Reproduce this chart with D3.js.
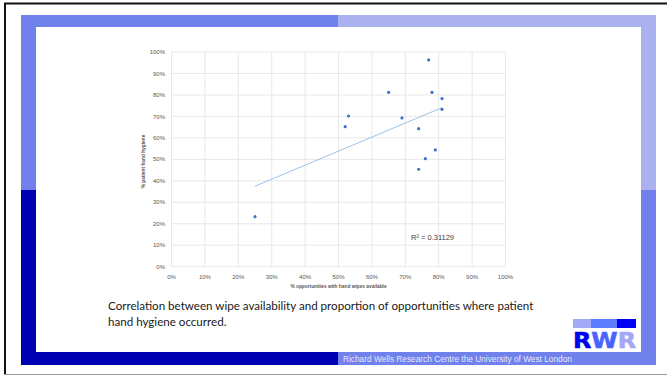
<!DOCTYPE html>
<html>
<head>
<meta charset="utf-8">
<script src="https://cdn.jsdelivr.net/npm/d3@7"></script>
<style>
  html, body { margin: 0; padding: 0; background: #fff; }
  svg { display: block; }
</style>
</head>
<body>
<svg id="slide" width="667" height="376"></svg>
<script>
// chart data (both in %)
const wipesAvailable = [77, 65, 78, 81, 81, 53, 52, 69, 74, 79, 76, 74, 25];
const handHygiene    = [96.3, 81.2, 81.2, 78.3, 73.3, 70.2, 65.2, 69.3, 64.3, 54.4, 50.3, 45.4, 23.3];
const xTickValues = [0, 10, 20, 30, 40, 50, 60, 70, 80, 90, 100];
const yTickValues = [0, 10, 20, 30, 40, 50, 60, 70, 80, 90, 100];
const rSquaredLabel = 'R² = 0.31129';
const xTitle = '% opportunities with hand wipes available';
const yTitle = '% patient hand hygiene';
const captionLines = [
  'Correlation between wipe availability and proportion of opportunities where patient',
  'hand hygiene occurred.'
];
const footerText = 'Richard Wells Research Centre the University of West London';

const svg = d3.select('#slide');

// ---- slide frame ----
const frame = svg.append('g');
const mid = 338, band = 190;
// top band
frame.append('rect').attr('x', 21).attr('y', 15).attr('width', mid - 21).attr('height', 12).attr('fill', '#7081EB');
frame.append('rect').attr('x', mid).attr('y', 15).attr('width', 656 - mid).attr('height', 12).attr('fill', '#AAB1EE');
// left band
frame.append('rect').attr('x', 21).attr('y', 15).attr('width', 15).attr('height', band - 15).attr('fill', '#7081EB');
frame.append('rect').attr('x', 21).attr('y', band).attr('width', 15).attr('height', 365 - band).attr('fill', '#0000B3');
// right band
frame.append('rect').attr('x', 641).attr('y', 15).attr('width', 15).attr('height', band - 15).attr('fill', '#AAB1EE');
frame.append('rect').attr('x', 641).attr('y', band).attr('width', 15).attr('height', 365 - band).attr('fill', '#7081EB');
// bottom band
frame.append('rect').attr('x', 21).attr('y', 352).attr('width', mid - 21).attr('height', 13).attr('fill', '#0000B3');
frame.append('rect').attr('x', mid).attr('y', 352).attr('width', 656 - mid).attr('height', 13).attr('fill', '#7081EB');
frame.append('text').attr('x', 343).attr('y', 362)
  .attr('font-family', 'Liberation Sans, Arial, sans-serif').attr('font-size', 8.3)
  .attr('fill', '#E6E8FF').text(footerText);

// outer border
svg.append('line').attr('x1', 4).attr('x2', 667).attr('y1', 3.5).attr('y2', 3.5).attr('stroke', '#111').attr('stroke-width', 2);
svg.append('line').attr('x1', 5).attr('x2', 5).attr('y1', 3).attr('y2', 375).attr('stroke', '#111').attr('stroke-width', 2);
svg.append('line').attr('x1', 4).attr('x2', 667).attr('y1', 374.5).attr('y2', 374.5).attr('stroke', '#999').attr('stroke-width', 1);

// ---- logo ----
const logo = svg.append('g');
logo.append('rect').attr('x', 573).attr('y', 319).attr('width', 18).attr('height', 9).attr('fill', '#A3A9F7');
logo.append('rect').attr('x', 591).attr('y', 319).attr('width', 26).attr('height', 9).attr('fill', '#5C7DFF');
logo.append('rect').attr('x', 617).attr('y', 319).attr('width', 19).attr('height', 9).attr('fill', '#0000F5');
const logoText = logo.append('text').attr('x', 573).attr('y', 347.5)
  .attr('font-family', 'DejaVu Sans, sans-serif').attr('font-weight', 'bold').attr('font-size', 22)
  .attr('stroke-width', 0.6).attr('textLength', 63).attr('lengthAdjust', 'spacingAndGlyphs');
logoText.append('tspan').attr('fill', '#0000F0').attr('stroke', '#0000F0').text('R');
logoText.append('tspan').attr('fill', '#4A63FF').attr('stroke', '#4A63FF').text('W');
logoText.append('tspan').attr('fill', '#A3A9F7').attr('stroke', '#A3A9F7').text('R');

// ---- caption ----
svg.append('g').selectAll('text').data(captionLines).join('text')
  .attr('x', 108).attr('y', (d, i) => 310 + i * 15.5)
  .attr('font-family', 'Lato, Open Sans, sans-serif').attr('font-size', 11.6)
  .attr('fill', '#1a1a1a')
  .text(d => d);

// ---- scatter chart ----
const x = d3.scaleLinear().domain([0, 100]).range([171.5, 505.5]);
const y = d3.scaleLinear().domain([0, 100]).range([266.7, 52]);
const chart = svg.append('g');

chart.append('g').selectAll('line').data(xTickValues).join('line')
  .attr('x1', d => x(d)).attr('x2', d => x(d)).attr('y1', y(0)).attr('y2', y(100))
  .attr('stroke', '#E2E2E2').attr('stroke-width', 0.8);
chart.append('g').selectAll('line').data(yTickValues).join('line')
  .attr('x1', x(0)).attr('x2', x(100)).attr('y1', d => y(d)).attr('y2', d => y(d))
  .attr('stroke', '#E2E2E2').attr('stroke-width', 0.8);

const tickFont = 'Liberation Sans, Arial, sans-serif';
chart.append('g').selectAll('text').data(yTickValues).join('text')
  .attr('x', 165).attr('y', d => y(d)).attr('dy', '0.35em')
  .attr('text-anchor', 'end').attr('font-family', tickFont).attr('font-size', 6)
  .attr('fill', '#595959').text(d => d + '%');
chart.append('g').selectAll('text').data(xTickValues).join('text')
  .attr('x', d => x(d)).attr('y', 279)
  .attr('text-anchor', 'middle').attr('font-family', tickFont).attr('font-size', 6)
  .attr('fill', '#595959').text(d => d + '%');

chart.append('text').attr('x', x(50)).attr('y', 288)
  .attr('text-anchor', 'middle').attr('font-family', tickFont).attr('font-size', 4.8)
  .attr('font-weight', 'bold').attr('fill', '#595959').text(xTitle);
chart.append('text').attr('transform', `translate(145,${y(49)}) rotate(-90)`)
  .attr('text-anchor', 'middle').attr('font-family', tickFont).attr('font-size', 4.8)
  .attr('font-weight', 'bold').attr('fill', '#595959').text(yTitle);

// linear trendline (least squares over the plotted points)
const points = wipesAvailable.map((d, i) => ({x: d, y: handHygiene[i]}));
const mx = d3.mean(points, d => d.x), my = d3.mean(points, d => d.y);
const slope = d3.sum(points, d => (d.x - mx) * (d.y - my)) / d3.sum(points, d => (d.x - mx) ** 2);
const x0 = d3.min(points, d => d.x), x1 = d3.max(points, d => d.x);
chart.append('line')
  .attr('x1', x(x0)).attr('y1', y(my + slope * (x0 - mx)))
  .attr('x2', x(x1)).attr('y2', y(my + slope * (x1 - mx)))
  .attr('stroke', '#9DC3E6').attr('stroke-width', 1);

chart.append('g').selectAll('circle').data(points).join('circle')
  .attr('cx', d => x(d.x)).attr('cy', d => y(d.y)).attr('r', 1.6)
  .attr('fill', '#3D73C8');

chart.append('text').attr('x', 411).attr('y', 239.5)
  .attr('font-family', 'Liberation Sans, Arial, sans-serif').attr('font-size', 7.5)
  .attr('fill', '#404040').text(rSquaredLabel);
</script>
</body>
</html>
